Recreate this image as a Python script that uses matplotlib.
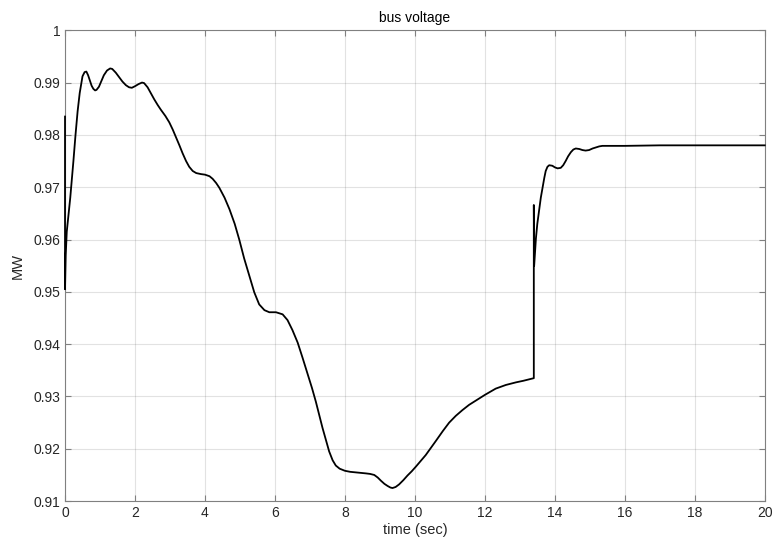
import matplotlib.pyplot as plt

plt.rcParams['font.family'] = ['Liberation Sans', 'DejaVu Sans']

# time (sec) and bus voltage
t = [0.0, 0.0, 0.02, 0.05, 0.15, 0.24, 0.30, 0.36, 0.42, 0.50, 0.56, 0.61,
     0.66, 0.71, 0.76, 0.81, 0.86, 0.90, 0.97, 1.04, 1.11, 1.20, 1.29,
     1.35, 1.45, 1.55, 1.64, 1.74, 1.83, 1.91, 2.0, 2.1, 2.2, 2.26, 2.36,
     2.45, 2.55, 2.65, 2.74, 2.87, 2.98, 3.08, 3.17, 3.27, 3.36, 3.46,
     3.55, 3.65, 3.75, 3.89, 4.0, 4.13, 4.22, 4.32, 4.41, 4.56, 4.7, 4.85,
     4.98, 5.12, 5.27, 5.41, 5.55, 5.70, 5.84, 6.03, 6.22, 6.36, 6.5,
     6.65, 6.79, 6.93, 7.06, 7.17, 7.36, 7.55, 7.65, 7.74, 7.85, 8.0,
     8.15, 8.31, 8.45, 8.6, 8.72, 8.84, 8.94, 9.03, 9.13, 9.22, 9.30,
     9.36, 9.45, 9.55, 9.67, 9.79, 9.91, 10.03, 10.17, 10.31, 10.45,
     10.6, 10.8, 10.98, 11.17, 11.36, 11.55, 11.74, 12.0, 12.31, 12.6,
     12.89, 13.1, 13.4, 13.4, 13.41, 13.46, 13.5, 13.55, 13.6, 13.65,
     13.7, 13.74, 13.79, 13.84, 13.93, 14.0, 14.08, 14.17, 14.24, 14.31,
     14.38, 14.46, 14.53, 14.6, 14.7, 14.79, 14.88, 14.98, 15.08, 15.17,
     15.27, 15.36, 15.6, 16.0, 17.0, 18.0, 19.0, 20.0]
v = [0.9835, 0.9505, 0.957, 0.9615, 0.968, 0.975, 0.980, 0.9845, 0.988,
     0.9912, 0.9920, 0.9921, 0.9914, 0.9904, 0.9894, 0.9888, 0.9885,
     0.9886, 0.9892, 0.9903, 0.9914, 0.9923, 0.9927, 0.9926, 0.9919,
     0.9910, 0.9902, 0.9895, 0.9891, 0.9890, 0.9893, 0.9897, 0.9900,
     0.9899, 0.9891, 0.9880, 0.9868, 0.9857, 0.9848, 0.9836, 0.9824,
     0.9810, 0.9796, 0.9780, 0.9765, 0.9750, 0.9739, 0.9731, 0.9727,
     0.9725, 0.9724, 0.9721, 0.9716, 0.9708, 0.9699, 0.9680, 0.9658,
     0.9630, 0.9600, 0.9564, 0.9530, 0.9499, 0.9476, 0.9465, 0.9461,
     0.9461, 0.9457, 0.9446, 0.9427, 0.9403, 0.9374, 0.9344, 0.9316,
     0.9290, 0.9240, 0.9195, 0.9178, 0.9168, 0.9162, 0.9158, 0.9156,
     0.9155, 0.9154, 0.9153, 0.9152, 0.9150, 0.9145, 0.9139, 0.9133,
     0.9129, 0.9126, 0.9125, 0.9127, 0.9132, 0.9140, 0.9149, 0.9157,
     0.9166, 0.9177, 0.9188, 0.9201, 0.9215, 0.9234, 0.9250, 0.9263,
     0.9274, 0.9284, 0.9292, 0.9303, 0.9315, 0.9322, 0.9327, 0.9330,
     0.9335, 0.9666, 0.9550, 0.9602, 0.9630, 0.9655, 0.9680, 0.9699,
     0.9718, 0.9731, 0.9739, 0.9742, 0.9741, 0.9738, 0.9736, 0.9737,
     0.9742, 0.9750, 0.9759, 0.9767, 0.9772, 0.9774, 0.9773, 0.9771,
     0.9770, 0.9771, 0.9774, 0.9776, 0.9778, 0.9779, 0.9779, 0.9779,
     0.9780, 0.9780, 0.9780, 0.9780]

xticks = list(range(0, 21, 2))
yticks = [0.91, 0.92, 0.93, 0.94, 0.95, 0.96, 0.97, 0.98, 0.99, 1.0]
ylabels = ['0.91', '0.92', '0.93', '0.94', '0.95', '0.96', '0.97', '0.98', '0.99', '1']

fig = plt.figure(figsize=(7.74, 5.4), dpi=100)
ax = fig.add_axes([0.084, 0.072, 0.904, 0.872])
ax.plot(t, v, color='black', linewidth=1.3, zorder=3, clip_on=False)

ax.set_xlim(0, 20)
ax.set_ylim(0.91, 1.0)
ax.set_xticks(xticks)
ax.set_yticks(yticks)
ax.set_yticklabels(ylabels)
ax.grid(True, color='#262626', alpha=0.13, linewidth=0.8)

gray = '#262626'
for s in ax.spines.values():
    s.set_color('#808080')
    s.set_linewidth(0.8)
ax.tick_params(direction='in', length=4, colors=gray, labelsize=10,
               top=True, right=True, width=0.8)
ax.tick_params(axis='both', which='both', color='#808080')

ax.set_title('bus voltage', fontsize=10, color='black', pad=6)
ax.set_xlabel('time (sec)', fontsize=10.5, color=gray, labelpad=2)
ax.set_ylabel('MW', fontsize=10.5, color=gray, labelpad=6)

fig.savefig('out.png', dpi=100)
